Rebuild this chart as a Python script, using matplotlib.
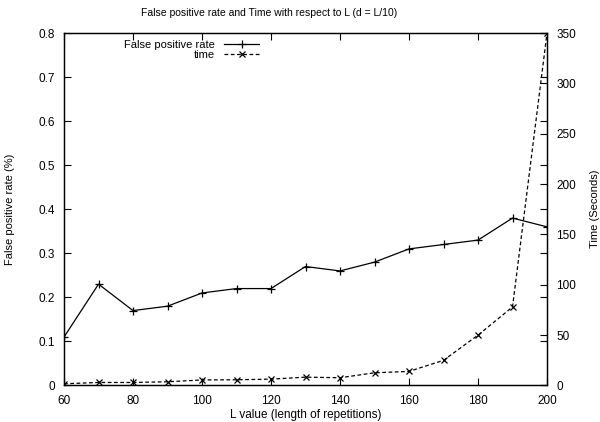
import matplotlib
matplotlib.use("Agg")
import matplotlib.pyplot as plt

plt.rcParams['font.family'] = ['Liberation Sans', 'DejaVu Sans']

L_values = [60, 70, 80, 90, 100, 110, 120, 130, 140, 150, 160, 170, 180, 190, 200]
fp_rate = [0.11, 0.23, 0.17, 0.18, 0.21, 0.22, 0.22, 0.27, 0.26, 0.28, 0.31, 0.32, 0.33, 0.38, 0.36]
time_sec = [1.7, 3, 3, 3.7, 5.5, 5.7, 6.3, 8.3, 7.7, 12.6, 14, 25, 50, 78, 350]

fig = plt.figure(figsize=(6, 4.22), dpi=100)
ax = fig.add_axes([0.1067, 0.0865, 0.805, 0.8353])
ax2 = ax.twinx()

l1, = ax.plot(L_values, fp_rate, color='black', lw=0.9, marker='+', ms=6, mew=0.9,
              label='False positive rate')
l2, = ax2.plot(L_values, time_sec, color='black', lw=0.9, ls=(0, (3, 2)), marker='x',
               ms=4.5, mew=0.9, label='time')

ax.set_xlim(60, 200)
ax.set_ylim(0, 0.8)
ax2.set_ylim(0, 350)
ax.set_xticks(range(60, 201, 20))
ax.set_yticks([i / 10 for i in range(9)])
ax.set_yticklabels(['0', '0.1', '0.2', '0.3', '0.4', '0.5', '0.6', '0.7', '0.8'])
ax2.set_yticks(range(0, 351, 50))

ax.tick_params(direction='in', top=True, right=True, length=5, width=0.8, labelsize=8.5, pad=6.5)
ax2.tick_params(direction='in', length=5, width=0.8, labelsize=8.5, pad=6.5)
for a in (ax, ax2):
    for s in a.spines.values():
        s.set_linewidth(0.9)

ax.set_xlabel('L value (length of repetitions)', fontsize=8.5, labelpad=1.5)
ax.set_ylabel('False positive rate (%)', fontsize=8)
ax.yaxis.set_label_coords(-0.101, 0.5)
ax2.set_ylabel('Time (Seconds)', fontsize=8)
ax2.yaxis.set_label_coords(1.09, 0.5)
fig.text(269 / 600, 1 - 13 / 422, 'False positive rate and Time with respect to L (d = L/10)',
         fontsize=7.5, ha='center', va='center')

ax.legend(handles=[l1, l2], loc='upper left', bbox_to_anchor=(0.19, 0.93),
          bbox_transform=fig.transFigure, frameon=False,
          markerfirst=False, handlelength=3.2, fontsize=8, labelspacing=0.05,
          handletextpad=0.8)

fig.savefig('out.png', dpi=100)
